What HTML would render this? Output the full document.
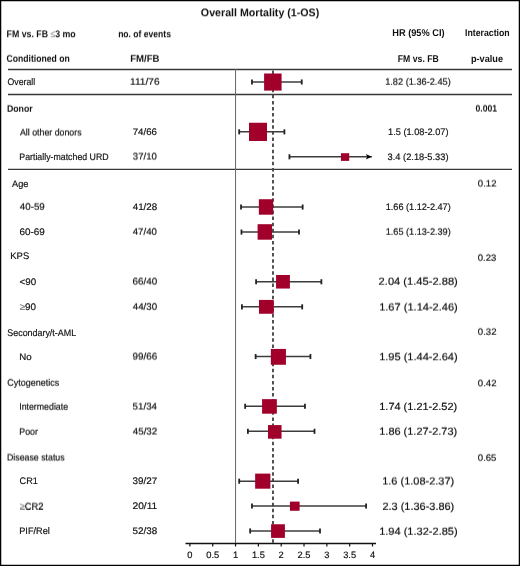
<!DOCTYPE html><html><head><meta charset="utf-8"><style>html,body{margin:0;padding:0;background:#fff}svg{display:block;will-change:transform}.L{position:absolute;left:0;top:0;width:520px;height:566px;will-change:transform;transform-origin:0 0}.L svg{will-change:auto}text{font-family:"Liberation Sans",sans-serif;text-rendering:geometricPrecision}</style></head><body style="position:relative">
<svg width="520" height="566" viewBox="0 0 520 566">
<rect x="0" y="0" width="520" height="566" fill="#fff"/>
<rect x="0.6" y="0.6" width="518.8" height="564.8" fill="none" stroke="#000" stroke-width="1.3"/>
<line x1="8" y1="69.5" x2="512" y2="69.5" stroke="#383838" stroke-width="1.3"/>
<line x1="8" y1="94.5" x2="512" y2="94.5" stroke="#383838" stroke-width="1.3"/>
<line x1="8" y1="169.3" x2="512" y2="169.3" stroke="#383838" stroke-width="1.3"/>
<line x1="235.55" y1="69" x2="235.55" y2="543.5" stroke="#666" stroke-width="1"/>
<line x1="272.98" y1="70.5" x2="272.98" y2="543.5" stroke="#4a4a4a" stroke-width="1.9" stroke-dasharray="3.5 2.587"/>
<line x1="185.5" y1="543.4" x2="376" y2="543.4" stroke="#111" stroke-width="1.5"/>
<line x1="189.90" y1="543.5" x2="189.90" y2="546.5" stroke="#111" stroke-width="1.2"/>
<text x="189.90" y="558" font-size="9.3" text-anchor="middle" fill="#111" stroke="#111" stroke-width="0.18">0</text>
<line x1="212.72" y1="543.5" x2="212.72" y2="546.5" stroke="#111" stroke-width="1.2"/>
<text x="212.72" y="558" font-size="9.3" text-anchor="middle" fill="#111" stroke="#111" stroke-width="0.18">0.5</text>
<line x1="235.55" y1="543.5" x2="235.55" y2="546.5" stroke="#111" stroke-width="1.2"/>
<text x="235.55" y="558" font-size="9.3" text-anchor="middle" fill="#111" stroke="#111" stroke-width="0.18">1</text>
<line x1="258.38" y1="543.5" x2="258.38" y2="546.5" stroke="#111" stroke-width="1.2"/>
<text x="258.38" y="558" font-size="9.3" text-anchor="middle" fill="#111" stroke="#111" stroke-width="0.18">1.5</text>
<line x1="281.20" y1="543.5" x2="281.20" y2="546.5" stroke="#111" stroke-width="1.2"/>
<text x="281.20" y="558" font-size="9.3" text-anchor="middle" fill="#111" stroke="#111" stroke-width="0.18">2</text>
<line x1="304.02" y1="543.5" x2="304.02" y2="546.5" stroke="#111" stroke-width="1.2"/>
<text x="304.02" y="558" font-size="9.3" text-anchor="middle" fill="#111" stroke="#111" stroke-width="0.18">2.5</text>
<line x1="326.85" y1="543.5" x2="326.85" y2="546.5" stroke="#111" stroke-width="1.2"/>
<text x="326.85" y="558" font-size="9.3" text-anchor="middle" fill="#111" stroke="#111" stroke-width="0.18">3</text>
<line x1="349.68" y1="543.5" x2="349.68" y2="546.5" stroke="#111" stroke-width="1.2"/>
<text x="349.68" y="558" font-size="9.3" text-anchor="middle" fill="#111" stroke="#111" stroke-width="0.18">3.5</text>
<line x1="372.50" y1="543.5" x2="372.50" y2="546.5" stroke="#111" stroke-width="1.2"/>
<text x="372.50" y="558" font-size="9.3" text-anchor="middle" fill="#111" stroke="#111" stroke-width="0.18">4</text>
<line x1="251.98" y1="82.0" x2="301.74" y2="82.0" stroke="#3c3c3c" stroke-width="1.5"/>
<line x1="251.98" y1="79.45" x2="251.98" y2="84.55" stroke="#222" stroke-width="1.8"/>
<line x1="301.74" y1="79.45" x2="301.74" y2="84.55" stroke="#222" stroke-width="1.8"/>
<rect x="264.10" y="73.50" width="17.50" height="17.10" fill="#a0002a"/>
<line x1="239.20" y1="131.85" x2="284.40" y2="131.85" stroke="#3c3c3c" stroke-width="1.5"/>
<line x1="239.20" y1="129.29999999999998" x2="239.20" y2="134.4" stroke="#222" stroke-width="1.8"/>
<line x1="284.40" y1="129.29999999999998" x2="284.40" y2="134.4" stroke="#222" stroke-width="1.8"/>
<rect x="249.00" y="122.75" width="18.00" height="18.25" fill="#a0002a"/>
<line x1="289.42" y1="156.77" x2="371.80" y2="156.77" stroke="#3c3c3c" stroke-width="1.5"/>
<line x1="289.42" y1="154.22" x2="289.42" y2="159.32000000000002" stroke="#222" stroke-width="1.8"/>
<path d="M371.80,156.77 L365.80,153.97 L367.30,156.77 L365.80,159.57000000000002 Z" fill="#000"/>
<rect x="340.96" y="153.20" width="8.24" height="7.70" fill="#a0002a"/>
<line x1="241.03" y1="207.07" x2="302.66" y2="207.07" stroke="#3c3c3c" stroke-width="1.5"/>
<line x1="241.03" y1="204.51999999999998" x2="241.03" y2="209.62" stroke="#222" stroke-width="1.8"/>
<line x1="302.66" y1="204.51999999999998" x2="302.66" y2="209.62" stroke="#222" stroke-width="1.8"/>
<rect x="258.85" y="199.23" width="14.30" height="15.47" fill="#a0002a"/>
<line x1="241.48" y1="232.07" x2="299.00" y2="232.07" stroke="#3c3c3c" stroke-width="1.5"/>
<line x1="241.48" y1="229.51999999999998" x2="241.48" y2="234.62" stroke="#222" stroke-width="1.8"/>
<line x1="299.00" y1="229.51999999999998" x2="299.00" y2="234.62" stroke="#222" stroke-width="1.8"/>
<rect x="257.60" y="224.20" width="14.40" height="15.50" fill="#a0002a"/>
<line x1="256.09" y1="281.77" x2="321.37" y2="281.77" stroke="#3c3c3c" stroke-width="1.5"/>
<line x1="256.09" y1="279.21999999999997" x2="256.09" y2="284.32" stroke="#222" stroke-width="1.8"/>
<line x1="321.37" y1="279.21999999999997" x2="321.37" y2="284.32" stroke="#222" stroke-width="1.8"/>
<rect x="276.06" y="274.98" width="13.84" height="13.57" fill="#a0002a"/>
<line x1="241.94" y1="306.85" x2="302.20" y2="306.85" stroke="#3c3c3c" stroke-width="1.5"/>
<line x1="241.94" y1="304.3" x2="241.94" y2="309.40000000000003" stroke="#222" stroke-width="1.8"/>
<line x1="302.20" y1="304.3" x2="302.20" y2="309.40000000000003" stroke="#222" stroke-width="1.8"/>
<rect x="259.00" y="299.92" width="14.75" height="13.85" fill="#a0002a"/>
<line x1="255.64" y1="356.54" x2="310.42" y2="356.54" stroke="#3c3c3c" stroke-width="1.5"/>
<line x1="255.64" y1="353.99" x2="255.64" y2="359.09000000000003" stroke="#222" stroke-width="1.8"/>
<line x1="310.42" y1="353.99" x2="310.42" y2="359.09000000000003" stroke="#222" stroke-width="1.8"/>
<rect x="270.85" y="348.92" width="15.09" height="15.83" fill="#a0002a"/>
<line x1="245.14" y1="406.3" x2="304.94" y2="406.3" stroke="#3c3c3c" stroke-width="1.5"/>
<line x1="245.14" y1="403.75" x2="245.14" y2="408.85" stroke="#222" stroke-width="1.8"/>
<line x1="304.94" y1="403.75" x2="304.94" y2="408.85" stroke="#222" stroke-width="1.8"/>
<rect x="262.08" y="399.15" width="14.76" height="14.55" fill="#a0002a"/>
<line x1="247.88" y1="431.3" x2="314.52" y2="431.3" stroke="#3c3c3c" stroke-width="1.5"/>
<line x1="247.88" y1="428.75" x2="247.88" y2="433.85" stroke="#222" stroke-width="1.8"/>
<line x1="314.52" y1="428.75" x2="314.52" y2="433.85" stroke="#222" stroke-width="1.8"/>
<rect x="267.98" y="425.08" width="13.57" height="13.61" fill="#a0002a"/>
<line x1="239.20" y1="481.2" x2="298.09" y2="481.2" stroke="#3c3c3c" stroke-width="1.5"/>
<line x1="239.20" y1="478.65" x2="239.20" y2="483.75" stroke="#222" stroke-width="1.8"/>
<line x1="298.09" y1="478.65" x2="298.09" y2="483.75" stroke="#222" stroke-width="1.8"/>
<rect x="255.15" y="473.60" width="15.23" height="15.09" fill="#a0002a"/>
<line x1="251.98" y1="506.04" x2="366.11" y2="506.04" stroke="#3c3c3c" stroke-width="1.5"/>
<line x1="251.98" y1="503.49" x2="251.98" y2="508.59000000000003" stroke="#222" stroke-width="1.8"/>
<line x1="366.11" y1="503.49" x2="366.11" y2="508.59000000000003" stroke="#222" stroke-width="1.8"/>
<rect x="289.92" y="501.60" width="9.68" height="9.17" fill="#a0002a"/>
<line x1="250.16" y1="530.94" x2="320.00" y2="530.94" stroke="#3c3c3c" stroke-width="1.5"/>
<line x1="250.16" y1="528.3900000000001" x2="250.16" y2="533.49" stroke="#222" stroke-width="1.8"/>
<line x1="320.00" y1="528.3900000000001" x2="320.00" y2="533.49" stroke="#222" stroke-width="1.8"/>
<rect x="271.08" y="524.25" width="13.82" height="13.65" fill="#a0002a"/>
<text x="392.28" y="36" font-size="9.8" font-weight="bold" fill="#111" textLength="52.28" lengthAdjust="spacingAndGlyphs">HR (95% CI)</text>
<text x="465.02" y="36" font-size="9.8" font-weight="bold" fill="#111" textLength="44.63" lengthAdjust="spacingAndGlyphs">Interaction</text>
<text x="397.82" y="62" font-size="9.8" font-weight="bold" fill="#111" textLength="40.97" lengthAdjust="spacingAndGlyphs">FM vs. FB</text>
<text x="470.90" y="62" font-size="9.8" font-weight="bold" fill="#111" textLength="32.12" lengthAdjust="spacingAndGlyphs">p-value</text>
<text x="7.59" y="85" font-size="9.5" stroke="#111" stroke-width="0.18" fill="#111" textLength="27.60" lengthAdjust="spacingAndGlyphs">Overall</text>
<text x="19.28" y="160" font-size="9.5" stroke="#111" stroke-width="0.18" fill="#111" textLength="89.39" lengthAdjust="spacingAndGlyphs">Partially-matched URD</text>
<text x="11.98" y="187" font-size="9.5" stroke="#111" stroke-width="0.18" fill="#111" textLength="16.43" lengthAdjust="spacingAndGlyphs">Age</text>
<text x="19.50" y="235" font-size="9.5" stroke="#111" stroke-width="0.18" fill="#111" textLength="25.27" lengthAdjust="spacingAndGlyphs">60-69</text>
<text x="10.32" y="259" font-size="9.5" stroke="#111" stroke-width="0.18" fill="#111" textLength="18.91" lengthAdjust="spacingAndGlyphs">KPS</text>
<text x="19.52" y="285" font-size="9.5" stroke="#111" stroke-width="0.18" fill="#111" textLength="16.56" lengthAdjust="spacingAndGlyphs">&lt;90</text>
<text x="19.69" y="310" font-size="9.5" stroke="#111" stroke-width="0.18" fill="#111" textLength="16.40" lengthAdjust="spacingAndGlyphs"><tspan fill="#777" stroke="#777" stroke-width="0.18">≥</tspan>90</text>
<text x="7.30" y="336" font-size="9.5" stroke="#111" stroke-width="0.18" fill="#111" textLength="68.80" lengthAdjust="spacingAndGlyphs">Secondary/t-AML</text>
<text x="19.20" y="360" font-size="9.5" stroke="#111" stroke-width="0.18" fill="#111" textLength="12.40" lengthAdjust="spacingAndGlyphs">No</text>
<text x="19.54" y="484" font-size="9.5" stroke="#111" stroke-width="0.18" fill="#111" textLength="18.31" lengthAdjust="spacingAndGlyphs">CR1</text>
<text x="19.25" y="534" font-size="9.5" stroke="#111" stroke-width="0.18" fill="#111" textLength="30.57" lengthAdjust="spacingAndGlyphs">PIF/Rel</text>
<text x="132.75" y="135" font-size="9.5" stroke="#111" stroke-width="0.18" fill="#111" textLength="24.17" lengthAdjust="spacingAndGlyphs">74/66</text>
<text x="132.78" y="210" font-size="9.5" stroke="#111" stroke-width="0.18" fill="#111" textLength="24.40" lengthAdjust="spacingAndGlyphs">41/28</text>
<text x="132.63" y="484" font-size="9.5" stroke="#111" stroke-width="0.18" fill="#111" textLength="24.62" lengthAdjust="spacingAndGlyphs">39/27</text>
<text x="132.50" y="509" font-size="9.5" stroke="#111" stroke-width="0.18" fill="#111" textLength="24.73" lengthAdjust="spacingAndGlyphs">20/11</text>
<text x="132.61" y="534" font-size="9.5" stroke="#111" stroke-width="0.18" fill="#111" textLength="24.57" lengthAdjust="spacingAndGlyphs">52/38</text>
<text x="388.00" y="135" font-size="9.4" stroke="#111" stroke-width="0.18" fill="#111" textLength="60.47" lengthAdjust="spacingAndGlyphs">1.5 (1.08-2.07)</text>
<text x="387.55" y="160" font-size="9.4" stroke="#111" stroke-width="0.18" fill="#111" textLength="60.93" lengthAdjust="spacingAndGlyphs">3.4 (2.18-5.33)</text>
<text x="385.70" y="210" font-size="9.4" stroke="#111" stroke-width="0.18" fill="#111" textLength="65.06" lengthAdjust="spacingAndGlyphs">1.66 (1.12-2.47)</text>
<text x="379.27" y="410" font-size="10.4" stroke="#111" stroke-width="0.18" fill="#111" textLength="77.91" lengthAdjust="spacingAndGlyphs">1.74 (1.21-2.52)</text>
</svg>
<div class="L" style="transform:matrix(1,0.0001,0,1,0,0.25)"><svg width="520" height="566" viewBox="0 0 520 566">
<text x="200.86" y="16" font-size="11" font-weight="bold" fill="#111" textLength="118.37" lengthAdjust="spacingAndGlyphs">Overall Mortality (1-OS)</text>
<text x="6.61" y="37" font-size="9.8" font-weight="bold" fill="#111" textLength="69.13" lengthAdjust="spacingAndGlyphs">FM vs. FB <tspan fill="#999" stroke="#999" stroke-width="0.18" font-weight="normal">≤</tspan>3 mo</text>
<text x="118.14" y="37" font-size="9.8" font-weight="bold" fill="#111" textLength="52.82" lengthAdjust="spacingAndGlyphs">no. of events</text>
<text x="379.16" y="360" font-size="10.4" stroke="#111" stroke-width="0.18" fill="#111" textLength="78.52" lengthAdjust="spacingAndGlyphs">1.95 (1.44-2.64)</text>
<text x="477.83" y="386" font-size="9.2" stroke="#111" stroke-width="0.18" fill="#111" textLength="18.66" lengthAdjust="spacingAndGlyphs">0.42</text>
</svg></div>
<div class="L" style="transform:matrix(1,0.0001,0,1,0,0.5)"><svg width="520" height="566" viewBox="0 0 520 566">
<text x="19.98" y="135" font-size="9.5" stroke="#111" stroke-width="0.18" fill="#111" textLength="61.58" lengthAdjust="spacingAndGlyphs">All other donors</text>
<text x="6.98" y="460" font-size="9.5" stroke="#111" stroke-width="0.18" fill="#111" textLength="57.64" lengthAdjust="spacingAndGlyphs">Disease status</text>
<text x="19.70" y="509" font-size="9.5" stroke="#111" stroke-width="0.18" fill="#111" textLength="23.87" lengthAdjust="spacingAndGlyphs"><tspan fill="#777" stroke="#777" stroke-width="0.18">≥</tspan>CR2</text>
<text x="132.88" y="159" font-size="9.5" stroke="#111" stroke-width="0.18" fill="#111" textLength="23.99" lengthAdjust="spacingAndGlyphs">37/10</text>
<text x="132.50" y="284" font-size="9.5" stroke="#111" stroke-width="0.18" fill="#111" textLength="24.63" lengthAdjust="spacingAndGlyphs">66/40</text>
<text x="132.54" y="359" font-size="9.5" stroke="#111" stroke-width="0.18" fill="#111" textLength="24.64" lengthAdjust="spacingAndGlyphs">99/66</text>
<text x="132.61" y="409" font-size="9.5" stroke="#111" stroke-width="0.18" fill="#111" textLength="24.43" lengthAdjust="spacingAndGlyphs">51/34</text>
<text x="132.78" y="434" font-size="9.5" stroke="#111" stroke-width="0.18" fill="#111" textLength="24.47" lengthAdjust="spacingAndGlyphs">45/32</text>
<text x="379.16" y="310" font-size="10.4" stroke="#111" stroke-width="0.18" fill="#111" textLength="78.63" lengthAdjust="spacingAndGlyphs">1.67 (1.14-2.46)</text>
<text x="382.16" y="484" font-size="10.4" stroke="#111" stroke-width="0.18" fill="#111" textLength="72.12" lengthAdjust="spacingAndGlyphs">1.6 (1.08-2.37)</text>
<text x="475.56" y="111" font-size="9.4" font-weight="bold" fill="#111" textLength="21.58" lengthAdjust="spacingAndGlyphs">0.001</text>
<text x="477.83" y="186" font-size="9.2" stroke="#111" stroke-width="0.18" fill="#111" textLength="18.66" lengthAdjust="spacingAndGlyphs">0.12</text>
</svg></div>
<div class="L" style="transform:matrix(1,0.0001,0,1,0,0.75)"><svg width="520" height="566" viewBox="0 0 520 566">
<text x="6.55" y="61" font-size="9.8" font-weight="bold" fill="#111" textLength="63.19" lengthAdjust="spacingAndGlyphs">Conditioned on</text>
<text x="130.16" y="61" font-size="9.8" font-weight="bold" fill="#111" textLength="29.28" lengthAdjust="spacingAndGlyphs">FM/FB</text>
<text x="6.92" y="111" font-size="9.5" font-weight="bold" fill="#111" textLength="25.72" lengthAdjust="spacingAndGlyphs">Donor</text>
<text x="19.78" y="209" font-size="9.5" stroke="#111" stroke-width="0.18" fill="#111" textLength="24.99" lengthAdjust="spacingAndGlyphs">40-59</text>
<text x="7.24" y="385" font-size="9.5" stroke="#111" stroke-width="0.18" fill="#111" textLength="51.98" lengthAdjust="spacingAndGlyphs">Cytogenetics</text>
<text x="19.19" y="409" font-size="9.5" stroke="#111" stroke-width="0.18" fill="#111" textLength="48.90" lengthAdjust="spacingAndGlyphs">Intermediate</text>
<text x="19.28" y="434" font-size="9.5" stroke="#111" stroke-width="0.18" fill="#111" textLength="18.57" lengthAdjust="spacingAndGlyphs">Poor</text>
<text x="130.07" y="84" font-size="9.5" stroke="#111" stroke-width="0.18" fill="#111" textLength="29.46" lengthAdjust="spacingAndGlyphs">111/76</text>
<text x="132.78" y="234" font-size="9.5" stroke="#111" stroke-width="0.18" fill="#111" textLength="24.10" lengthAdjust="spacingAndGlyphs">47/40</text>
<text x="132.78" y="309" font-size="9.5" stroke="#111" stroke-width="0.18" fill="#111" textLength="24.35" lengthAdjust="spacingAndGlyphs">44/30</text>
<text x="385.20" y="84" font-size="9.4" stroke="#111" stroke-width="0.18" fill="#111" textLength="65.57" lengthAdjust="spacingAndGlyphs">1.82 (1.36-2.45)</text>
<text x="385.70" y="234" font-size="9.4" stroke="#111" stroke-width="0.18" fill="#111" textLength="65.06" lengthAdjust="spacingAndGlyphs">1.65 (1.13-2.39)</text>
<text x="378.64" y="284" font-size="10.4" stroke="#111" stroke-width="0.18" fill="#111" textLength="79.15" lengthAdjust="spacingAndGlyphs">2.04 (1.45-2.88)</text>
<text x="379.27" y="434" font-size="10.4" stroke="#111" stroke-width="0.18" fill="#111" textLength="77.91" lengthAdjust="spacingAndGlyphs">1.86 (1.27-2.73)</text>
<text x="382.45" y="509" font-size="10.4" stroke="#111" stroke-width="0.18" fill="#111" textLength="71.83" lengthAdjust="spacingAndGlyphs">2.3 (1.36-3.86)</text>
<text x="379.16" y="534" font-size="10.4" stroke="#111" stroke-width="0.18" fill="#111" textLength="78.52" lengthAdjust="spacingAndGlyphs">1.94 (1.32-2.85)</text>
<text x="477.73" y="260" font-size="9.2" stroke="#111" stroke-width="0.18" fill="#111" textLength="18.59" lengthAdjust="spacingAndGlyphs">0.23</text>
<text x="477.83" y="334" font-size="9.2" stroke="#111" stroke-width="0.18" fill="#111" textLength="18.66" lengthAdjust="spacingAndGlyphs">0.32</text>
<text x="477.83" y="460" font-size="9.2" stroke="#111" stroke-width="0.18" fill="#111" textLength="18.57" lengthAdjust="spacingAndGlyphs">0.65</text>
</svg></div>
</body></html>
